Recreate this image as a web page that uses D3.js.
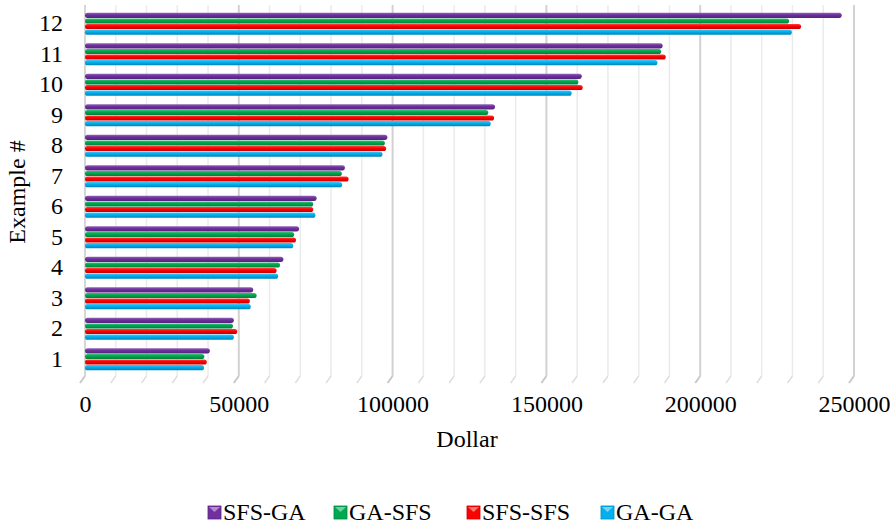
<!DOCTYPE html>
<html>
<head>
<meta charset="utf-8">
<script src="https://cdn.jsdelivr.net/npm/d3@7"></script>
<style>
  html, body { margin: 0; padding: 0; background: #fff; }
  svg { display: block; }
  svg text { font-family: "Liberation Serif", "Times New Roman", Times, "DejaVu Serif", serif; }
</style>
</head>
<body>
<svg id="chart" width="890" height="529"></svg>
<script>
// Example numbers, listed bottom-to-top as on the axis
const categories = ["1", "2", "3", "4", "5", "6", "7", "8", "9", "10", "11", "12"];
const seriesNames = ["SFS-GA", "GA-SFS", "SFS-SFS", "GA-GA"];
const seriesColors = ["#7030a0", "#00a850", "#ff0000", "#00b0f0"];

// Cost in dollars per example, one array per method
const sfsGA  = [40600, 48400, 54700, 64500, 69600, 75300, 84500, 98300, 133300, 161500, 187800, 246000];
const gaSFS  = [38800, 48100, 55800, 63400, 68000, 74200, 83500, 97500, 131100, 160400, 187300, 228900];
const sfsSFS = [39600, 49500, 53600, 62300, 68600, 74200, 85700, 97900, 133000, 161800, 188800, 232800];
const gaGA   = [38700, 48400, 53900, 62800, 67700, 74900, 83600, 96700, 131900, 158200, 186100, 229800];
const seriesValues = [sfsGA, gaSFS, sfsSFS, gaGA];

const xTicks = [0, 50000, 100000, 150000, 200000, 250000];

const FONT_SIZE = 24;
const svg = d3.select("#chart");

const x = d3.scaleLinear().domain([0, 250000]).range([85, 854]);
const y0 = d3.scaleBand()
  .domain(categories.slice().reverse())
  .range([8.5, 374.5])
  .paddingInner(0.28)
  .paddingOuter(0.14);
const y1 = d3.scaleBand()
  .domain(seriesNames)
  .range([0, y0.bandwidth()])
  .paddingInner(0.09);

// Gradients giving each bar a rounded, cylinder-like shading
const defs = svg.append("defs");
seriesColors.forEach((c, i) => {
  const base = d3.color(c);
  const g = defs.append("linearGradient")
    .attr("id", "grad" + i)
    .attr("x1", 0).attr("y1", 0).attr("x2", 0).attr("y2", 1);
  g.append("stop").attr("offset", "0%").attr("stop-color", d3.interpolateRgb(c, "#fff")(0.25));
  g.append("stop").attr("offset", "40%").attr("stop-color", base.formatHex());
  g.append("stop").attr("offset", "100%").attr("stop-color", base.darker(0.8).formatHex());
});

// Back-wall gridlines: minor every 10000, major every 50000
const gridTop = 5, gridBottom = 376, floorDrop = 7, floorShift = 5;
const gridVals = d3.range(0, 250001, 10000);
const grid = svg.append("g");
gridVals.forEach(v => {
  const major = v % 50000 === 0;
  const col = v === 0 ? "#d6d6d6" : (major ? "#d2d2d2" : "#ebebeb");
  const w = major ? 2 : 1.5;
  grid.append("line")
    .attr("x1", x(v)).attr("x2", x(v))
    .attr("y1", gridTop).attr("y2", gridBottom)
    .attr("stroke", col).attr("stroke-width", w);
  // floor edge
  grid.append("line")
    .attr("x1", x(v)).attr("y1", gridBottom)
    .attr("x2", x(v) - floorShift).attr("y2", gridBottom + floorDrop)
    .attr("stroke", major ? "#c8c8c8" : "#dedede").attr("stroke-width", w);
});

// Bars
const groups = svg.append("g").selectAll("g")
  .data(categories)
  .join("g")
  .attr("transform", c => `translate(0,${y0(c)})`);

groups.selectAll("rect")
  .data((c, ci) => seriesNames.map((s, si) => ({ s, si, v: seriesValues[si][ci] })))
  .join("rect")
  .attr("x", x(0))
  .attr("y", d => y1(d.s))
  .attr("width", d => x(d.v) - x(0))
  .attr("height", y1.bandwidth())
  .attr("rx", y1.bandwidth() / 2)
  .attr("fill", d => `url(#grad${d.si})`);

// Y axis labels
const yAxis = d3.axisLeft(y0).tickSize(0).tickPadding(0);
svg.append("g")
  .attr("transform", "translate(63,0)")
  .call(yAxis)
  .call(g => g.select(".domain").remove())
  .call(g => g.selectAll("text")
    .attr("font-family", null)
    .attr("font-size", FONT_SIZE)
    .attr("fill", "#000"));

// X axis labels
const xAxis = d3.axisBottom(x).tickValues(xTicks).tickSize(0).tickPadding(0).tickFormat(d3.format("d"));
svg.append("g")
  .attr("transform", "translate(0,395)")
  .call(xAxis)
  .call(g => g.select(".domain").remove())
  .call(g => g.selectAll("text")
    .attr("font-family", null)
    .attr("font-size", FONT_SIZE)
    .attr("fill", "#000"));

// Axis titles
svg.append("text")
  .attr("x", 467).attr("y", 447)
  .attr("text-anchor", "middle")
  .attr("font-size", FONT_SIZE)
  .text("Dollar");

svg.append("text")
  .attr("transform", "translate(25,192) rotate(-90)")
  .attr("text-anchor", "middle")
  .attr("font-size", FONT_SIZE)
  .text("Example #");

// Legend
const legendX = [208, 334, 467, 601];
const legend = svg.append("g");
seriesNames.forEach((s, i) => {
  const gx = legendX[i], gy = 506;
  const base = d3.color(seriesColors[i]);
  legend.append("rect")
    .attr("x", gx).attr("y", gy).attr("width", 13).attr("height", 13)
    .attr("fill", base.formatHex())
    .attr("stroke", base.darker(0.6).formatHex()).attr("stroke-width", 0.8);
  legend.append("path")
    .attr("d", `M${gx + 1},${gy + 1} L${gx + 12},${gy + 1} L${gx + 6.5},${gy + 6} Z`)
    .attr("fill", d3.interpolateRgb(seriesColors[i], "#fff")(0.45));
  legend.append("text")
    .attr("x", gx + 15).attr("y", gy + 14)
    .attr("font-size", FONT_SIZE)
    .text(s);
});
</script>
</body>
</html>
